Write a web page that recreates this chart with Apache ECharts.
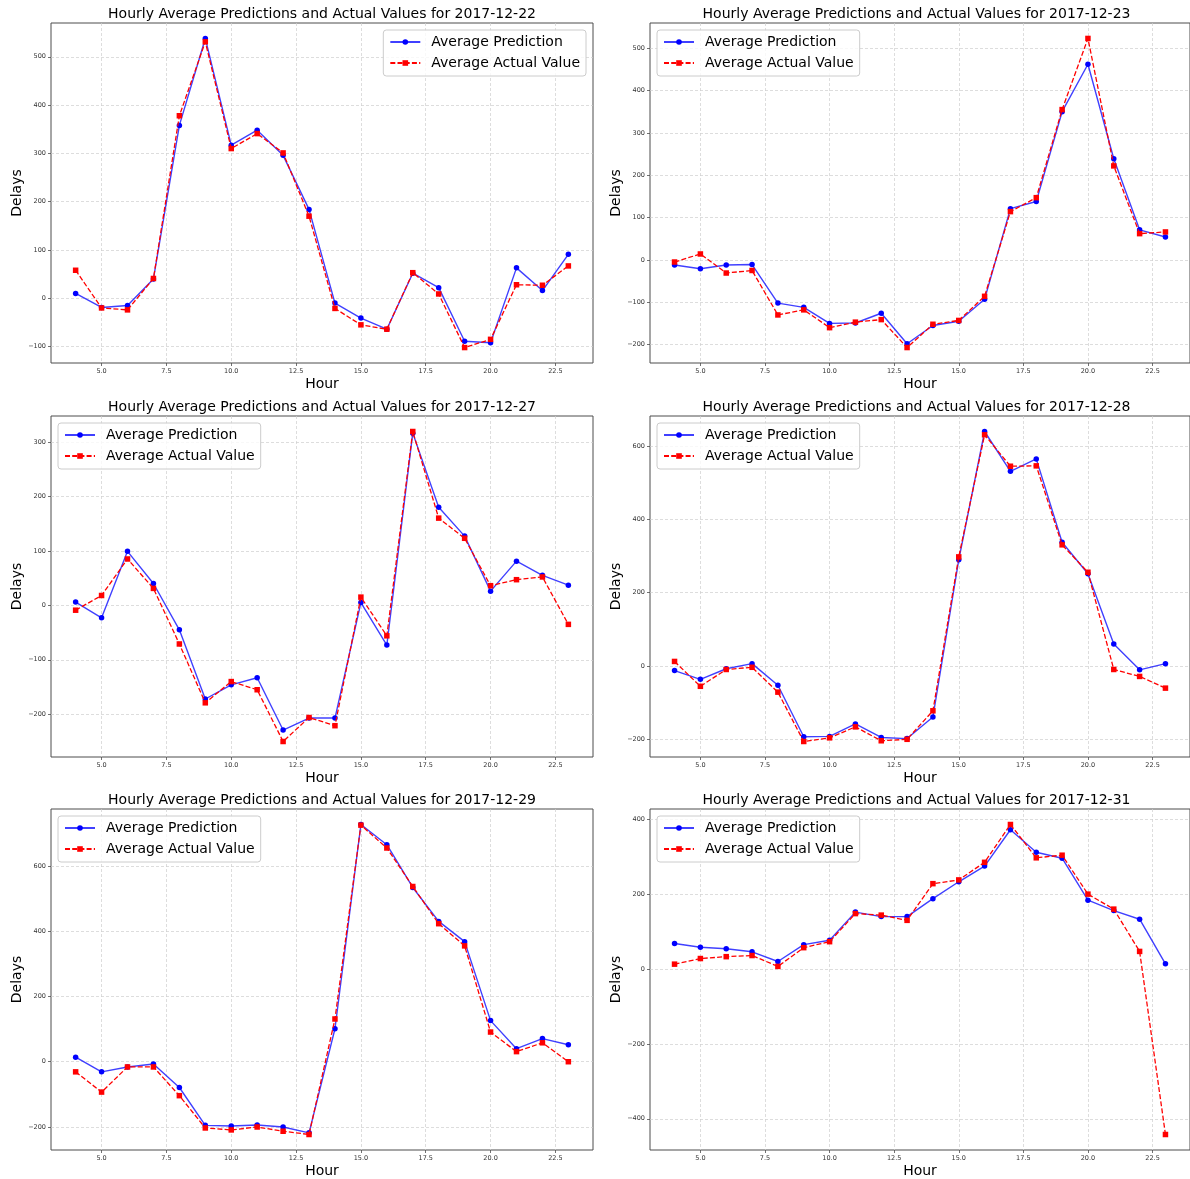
<!DOCTYPE html>
<html>
<head>
<meta charset="utf-8">
<script src="https://cdn.jsdelivr.net/npm/echarts@6/dist/echarts.min.js"></script>
<style>
  html, body { margin: 0; padding: 0; background: #ffffff; }
  #chart { width: 1190px; height: 1179px; }
</style>
</head>
<body>
<div id="chart"></div>
<script>
// Hours of the day shown on every panel
const hours = [4, 5, 6, 7, 8, 9, 10, 11, 12, 13, 14, 15, 16, 17, 18, 19, 20, 21, 22, 23];

// Dates, one per panel
const dates = ['2017-12-22', '2017-12-23', '2017-12-27', '2017-12-28', '2017-12-29', '2017-12-31'];

// Hourly average predictions / actual delays per date
const pred_1222   = [10, -19, -15, 40, 358, 538, 317, 348, 296, 184, -10, -41, -64, 52, 22, -89, -92, 63, 16, 91];
const actual_1222 = [58, -20, -24, 41, 378, 531, 310, 341, 301, 170, -21, -55, -64, 53, 9, -102, -85, 28, 27, 67];

const pred_1223   = [-12, -21, -12, -11, -102, -112, -150, -149, -126, -198, -155, -145, -93, 121, 138, 350, 462, 239, 71, 54];
const actual_1223 = [-5, 14, -31, -25, -130, -118, -160, -147, -141, -207, -152, -143, -86, 114, 147, 355, 523, 222, 62, 66];

const pred_1227   = [6, -23, 99, 40, -45, -172, -146, -133, -229, -207, -207, 5, -73, 316, 180, 127, 26, 81, 55, 37];
const actual_1227 = [-9, 18, 85, 31, -71, -179, -140, -155, -250, -206, -221, 15, -56, 319, 160, 123, 36, 47, 52, -35];

const pred_1228   = [-13, -37, -8, 6, -53, -194, -193, -159, -196, -199, -140, 290, 641, 532, 566, 338, 252, 60, -11, 6];
const actual_1228 = [12, -56, -10, -4, -72, -207, -197, -167, -205, -201, -123, 298, 632, 546, 547, 331, 256, -10, -29, -61];

const pred_1229   = [14, -31, -16, -7, -79, -195, -197, -194, -200, -218, 101, 727, 665, 534, 430, 368, 126, 40, 71, 52];
const actual_1229 = [-31, -93, -16, -16, -104, -203, -209, -200, -213, -223, 131, 725, 655, 537, 423, 355, 91, 31, 58, 0];

const pred_1231   = [68, 58, 54, 46, 20, 65, 77, 152, 140, 140, 188, 233, 275, 372, 312, 296, 184, 156, 133, 14];
const actual_1231 = [13, 28, 33, 36, 7, 57, 73, 148, 144, 130, 228, 238, 285, 386, 297, 304, 200, 160, 47, -442];

// Tick values
const xTicks = [5, 7.5, 10, 12.5, 15, 17.5, 20, 22.5];
const yTicks_1222 = [-100, 0, 100, 200, 300, 400, 500];
const yTicks_1223 = [-200, -100, 0, 100, 200, 300, 400, 500];
const yTicks_1227 = [-200, -100, 0, 100, 200, 300];
const yTicks_1228 = [-200, 0, 200, 400, 600];
const yTicks_1229 = [-200, 0, 200, 400, 600];
const yTicks_1231 = [-400, -200, 0, 200, 400];

const panels = [
  { date: dates[0], pred: pred_1222, actual: actual_1222, yTicks: yTicks_1222, legendSide: 'right' },
  { date: dates[1], pred: pred_1223, actual: actual_1223, yTicks: yTicks_1223, legendSide: 'left' },
  { date: dates[2], pred: pred_1227, actual: actual_1227, yTicks: yTicks_1227, legendSide: 'left' },
  { date: dates[3], pred: pred_1228, actual: actual_1228, yTicks: yTicks_1228, legendSide: 'left' },
  { date: dates[4], pred: pred_1229, actual: actual_1229, yTicks: yTicks_1229, legendSide: 'left' },
  { date: dates[5], pred: pred_1231, actual: actual_1231, yTicks: yTicks_1231, legendSide: 'left' }
];

const FONT = 'DejaVu Sans';
const colLeft = [51, 650];
const colWidth = [542, 541];
const rowTop = [23, 416, 809];
const rowHeight = [340, 341, 341];
const W = 1190;

const fmtMinus = v => String(v).replace('-', '\u2212');

const option = {
  animation: false,
  backgroundColor: '#ffffff',
  grid: [], xAxis: [], yAxis: [], title: [], legend: [], series: []
};

panels.forEach((p, i) => {
  const col = i % 2, row = Math.floor(i / 2);
  const left = colLeft[col], top = rowTop[row];
  const width = colWidth[col], height = rowHeight[row];

  // y range padded by 5% of the data span on both sides
  const all = p.pred.concat(p.actual);
  const lo = Math.min.apply(null, all), hi = Math.max.apply(null, all);
  const pad = (hi - lo) * 0.05;

  option.grid.push({
    left: left, top: top, width: width, height: height,
    show: true, borderColor: '#4d4d4d', borderWidth: 1, backgroundColor: 'transparent'
  });

  option.xAxis.push({
    type: 'value', gridIndex: i, min: 3.05, max: 23.95,
    name: 'Hour', nameLocation: 'middle', nameGap: 14,
    nameTextStyle: { fontFamily: FONT, fontSize: 14, color: '#000' },
    axisLine: { show: false, onZero: false },
    axisTick: { show: true, customValues: xTicks, length: 3, lineStyle: { color: '#4d4d4d', width: 0.8 } },
    axisLabel: { customValues: xTicks, margin: 5, fontFamily: FONT, fontSize: 6.5, color: '#333',
                 formatter: v => Number(v).toFixed(1) },
    splitLine: { show: true, lineStyle: { color: '#cfcfcf', width: 0.7, type: [3, 2] } }
  });

  option.yAxis.push({
    type: 'value', gridIndex: i, min: lo - pad, max: hi + pad,
    name: 'Delays', nameLocation: 'middle', nameGap: 27,
    nameTextStyle: { fontFamily: FONT, fontSize: 14, color: '#000' },
    axisLine: { show: false, onZero: false },
    axisTick: { show: true, customValues: p.yTicks, length: 3, lineStyle: { color: '#4d4d4d', width: 0.8 } },
    axisLabel: { customValues: p.yTicks, margin: 5, fontFamily: FONT, fontSize: 6.5, color: '#333',
                 formatter: v => fmtMinus(Math.round(v)) },
    splitLine: { show: true, lineStyle: { color: '#cfcfcf', width: 0.7, type: [3, 2] } }
  });

  option.title.push({
    text: 'Hourly Average Predictions and Actual Values for ' + p.date,
    left: left + width / 2 - (col === 1 ? 4 : 0), top: top - 16, textAlign: 'center', padding: 0,
    textStyle: { fontFamily: FONT, fontSize: 14, fontWeight: 'normal', color: '#000' }
  });

  const legend = {
    orient: 'vertical', top: top + 7,
    itemWidth: 30, itemHeight: 7, itemGap: 7, padding: [5, 6, 6, 6],
    backgroundColor: 'rgba(255,255,255,0.8)', borderColor: '#cccccc', borderWidth: 1, borderRadius: 3,
    selectedMode: false,
    textStyle: { fontFamily: FONT, fontSize: 14, color: '#000', lineHeight: 14, padding: [0, 0, 0, 6] },
    data: ['Average Prediction', 'Average Actual Value']
  };
  if (p.legendSide === 'right') legend.right = W - (left + width - 7);
  else legend.left = left + 7;
  option.legend.push(legend);

  option.series.push({
    name: 'Average Prediction', type: 'line', xAxisIndex: i, yAxisIndex: i,
    data: hours.map((h, k) => [h, p.pred[k]]),
    symbol: 'circle', symbolSize: 5.5, z: 2,
    lineStyle: { color: 'rgba(0,0,255,0.75)', width: 1.4 },
    itemStyle: { color: '#0000ff' }
  });
  option.series.push({
    name: 'Average Actual Value', type: 'line', xAxisIndex: i, yAxisIndex: i,
    data: hours.map((h, k) => [h, p.actual[k]]),
    symbol: 'rect', symbolSize: 5.5, z: 3,
    lineStyle: { color: '#ff0000', width: 1.3, type: [5, 2.2] },
    itemStyle: { color: '#ff0000' }
  });
});

const chart = echarts.init(document.getElementById('chart'), null, { renderer: 'canvas' });
chart.setOption(option);
</script>
</body>
</html>
